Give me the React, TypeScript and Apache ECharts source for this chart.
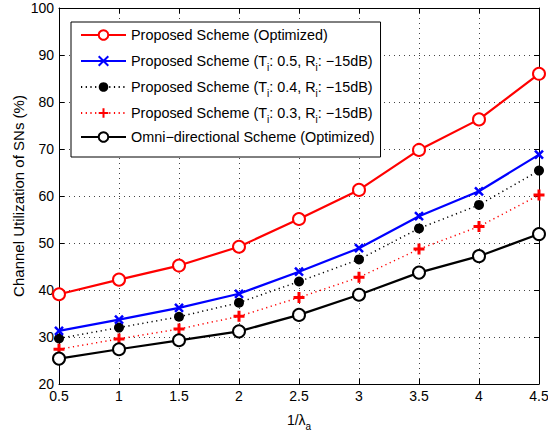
import React, { useEffect, useRef } from "react";
import * as echarts from "echarts";

// 1/λa sample points
const xValues = [0.5, 1, 1.5, 2, 2.5, 3, 3.5, 4, 4.5];

// Channel utilization of SNs (%)
const proposedOptimized = [39.1, 42.2, 45.2, 49.2, 55.1, 61.3, 69.8, 76.3, 86.0];
const proposedT05 = [31.3, 33.7, 36.2, 39.2, 43.9, 48.9, 55.7, 61.0, 68.8];
const proposedT04 = [29.7, 32.0, 34.3, 37.3, 41.8, 46.5, 53.1, 58.1, 65.4];
const proposedT03 = [27.4, 29.6, 31.7, 34.4, 38.4, 42.7, 48.7, 53.5, 60.2];
const omniOptimized = [25.4, 27.4, 29.3, 31.2, 34.7, 39.0, 43.7, 47.2, 51.9];

const seriesNames = [
  "Proposed Scheme (Optimized)",
  "Proposed Scheme (T{sub|i}: 0.5, R{sub|i}: \u221215dB)",
  "Proposed Scheme (T{sub|i}: 0.4, R{sub|i}: \u221215dB)",
  "Proposed Scheme (T{sub|i}: 0.3, R{sub|i}: \u221215dB)",
  "Omni\u2212directional Scheme (Optimized)",
];

const FONT = "Liberation Sans, Arial, Helvetica, sans-serif";
const FS = 14;
const CROSS = "path://M0,0L10,10M0,10L10,0";
const PLUS = "path://M5,0L5,10M0,5L10,5";

const pair = (ys: number[]) => xValues.map((x, i) => [x, ys[i]]);

// lowered subscript token for rich text
const subStyle = {
  fontFamily: FONT,
  fontSize: 10,
  color: "#000",
  lineHeight: 12,
  padding: [14, 0, 0, 0],
  verticalAlign: "bottom",
};

export default function App() {
  const ref = useRef<HTMLDivElement>(null);

  useEffect(() => {
    if (!ref.current) return;
    const chart = echarts.init(ref.current, undefined, { renderer: "svg" });

    const axisCommon = {
      axisLine: { show: true, onZero: false, lineStyle: { color: "#000", width: 1 } },
      axisTick: { show: true, inside: true, length: 5, lineStyle: { color: "#000" } },
    };

    chart.setOption({
      animation: false,
      backgroundColor: "#fff",
      textStyle: { fontFamily: FONT },
      grid: {
        left: 59,
        right: 9,
        top: 8,
        bottom: 48,
        containLabel: false,
        outerBoundsMode: "none",
      },
      legend: {
        orient: "vertical",
        left: 71,
        top: 22,
        padding: [2, 6, 9, 9],
        itemGap: 2,
        itemWidth: 45,
        itemHeight: 12,
        itemTextGap: 5,
        backgroundColor: "#fff",
        borderColor: "#000",
        borderWidth: 1,
        selectedMode: false,
        textStyle: {
          fontFamily: FONT,
          fontSize: 14.4,
          color: "#000",
          lineHeight: 22,
          rich: { sub: subStyle },
        },
        data: seriesNames,
      },
      xAxis: [
        {
          type: "value",
          min: 0.5,
          max: 4.5,
          interval: 0.5,
          position: "bottom",
          name: "1/\u03bb{sub|a}",
          nameLocation: "middle",
          nameGap: 25,
          nameMoveOverlap: false,
          nameTextStyle: {
            fontFamily: FONT,
            fontSize: FS,
            color: "#000",
            lineHeight: 22,
            rich: { sub: subStyle },
          },
          ...axisCommon,
          axisLabel: { fontFamily: FONT, fontSize: FS, color: "#000", margin: 5 },
          splitLine: { show: true, lineStyle: { color: "#444", type: [1, 4], width: 1 } },
        },
        {
          type: "value",
          min: 0.5,
          max: 4.5,
          interval: 0.5,
          position: "top",
          ...axisCommon,
          axisLabel: { show: false },
          splitLine: { show: false },
        },
      ],
      yAxis: [
        {
          type: "value",
          min: 20,
          max: 100,
          interval: 10,
          position: "left",
          name: "Channel Utilization of SNs (%)",
          nameLocation: "middle",
          nameGap: 33,
          nameMoveOverlap: false,
          nameTextStyle: { fontFamily: FONT, fontSize: 15, color: "#000" },
          ...axisCommon,
          axisLabel: { fontFamily: FONT, fontSize: FS, color: "#000", margin: 5 },
          splitLine: { show: true, lineStyle: { color: "#444", type: [1, 4], width: 1 } },
        },
        {
          type: "value",
          min: 20,
          max: 100,
          interval: 10,
          position: "right",
          ...axisCommon,
          axisLabel: { show: false },
          splitLine: { show: false },
        },
      ],
      series: [
        {
          name: seriesNames[0],
          type: "line",
          data: pair(proposedOptimized),
          symbol: "emptyCircle",
          symbolSize: 12,
          lineStyle: { color: "#ff0000", width: 2.2 },
          itemStyle: { color: "#ff0000", borderColor: "#ff0000", borderWidth: 2.2 },
          z: 5,
        },
        {
          name: seriesNames[1],
          type: "line",
          data: pair(proposedT05),
          symbol: CROSS,
          symbolSize: 8,
          lineStyle: { color: "#0000ff", width: 2.2 },
          itemStyle: { color: "#0000ff", borderColor: "#0000ff", borderWidth: 2.5 },
          z: 4,
        },
        {
          name: seriesNames[2],
          type: "line",
          data: pair(proposedT04),
          symbol: "circle",
          symbolSize: 10,
          lineStyle: { color: "#000", width: 1.5, type: [1.2, 3.5] },
          itemStyle: { color: "#000", borderColor: "#000", borderWidth: 0 },
          z: 3,
        },
        {
          name: seriesNames[3],
          type: "line",
          data: pair(proposedT03),
          symbol: PLUS,
          symbolSize: 11,
          lineStyle: { color: "#ff0000", width: 1.5, type: [1.2, 3.5] },
          itemStyle: { color: "#ff0000", borderColor: "#ff0000", borderWidth: 3 },
          z: 3,
        },
        {
          name: seriesNames[4],
          type: "line",
          data: pair(omniOptimized),
          symbol: "emptyCircle",
          symbolSize: 12,
          lineStyle: { color: "#000", width: 2.2 },
          itemStyle: { color: "#000", borderColor: "#000", borderWidth: 2.2 },
          z: 4,
        },
      ],
    });

    return () => chart.dispose();
  }, []);

  return (
    <div
      ref={ref}
      style={{ position: "absolute", left: 0, top: 0, width: 548, height: 432 }}
    />
  );
}
